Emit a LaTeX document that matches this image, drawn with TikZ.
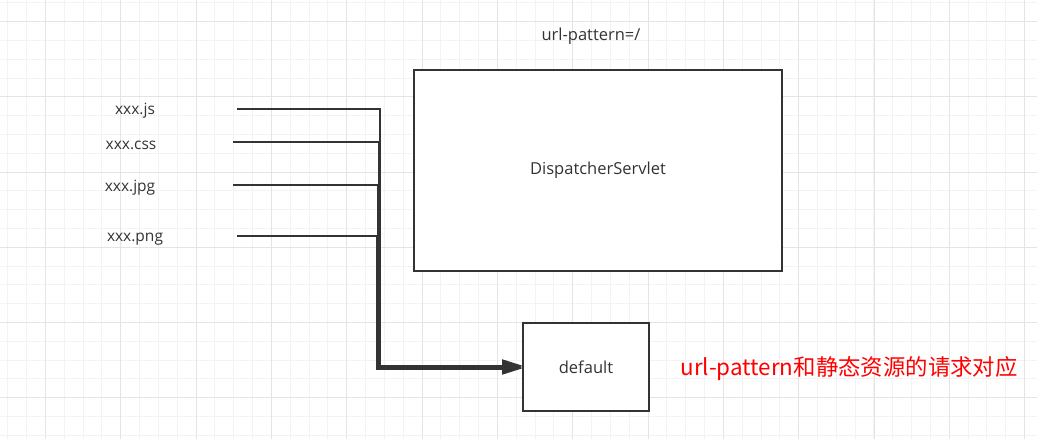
\documentclass[tikz,border=0pt]{standalone}
\usepackage{fontspec}
\setmainfont{Open Sans}
\newfontfamily\cjkfont{Noto Sans CJK SC}
\usetikzlibrary{positioning,arrows.meta}
\definecolor{ink}{HTML}{333333}
\definecolor{gridminor}{HTML}{F3F3F3}
\definecolor{gridmajor}{HTML}{E4E4E4}
\definecolor{notered}{HTML}{FF0000}
\tikzset{
	box/.style={draw=ink, line width=2pt, fill=white, inner sep=0pt},
	boxtext/.style={text=ink, font=\fontsize{16.5}{18}\selectfont},
	filename/.style={text=ink, font=\fontsize{15.5}{17}\selectfont, inner sep=0pt},
	wire/.style={draw=ink, line width=2pt, -{Triangle[length=20pt, width=12pt]}},
}
\begin{document}
\begin{tikzpicture}[x=1pt, y=-1pt]
		% Background grid
		\useasboundingbox[fill=white] (0,0) rectangle (1037,439);
		\foreach \i in {0,...,55} {
			\draw[gridminor, line width=1pt] (7.8+\i*18.83,0) -- (7.8+\i*18.83,439);
		}
		\foreach \j in {0,...,23} {
			\draw[gridminor, line width=1pt] (0,2.9+\j*18.8) -- (1037,2.9+\j*18.8);
		}
		\foreach \i in {0,...,13} {
			\draw[gridmajor, line width=1pt] (45.5+\i*75.32,0) -- (45.5+\i*75.32,439);
		}
		\foreach \j in {0,...,5} {
			\draw[gridmajor, line width=1pt] (0,21.7+\j*75.2) -- (1037,21.7+\j*75.2);
		}
		% Define nodes
		\node[box, minimum width=368pt, minimum height=201pt]	(disp)	at (598,170.5)	{};
		\node[boxtext]	at (disp.center)	{DispatcherServlet};
		\node[boxtext, above = 21pt of disp, xshift=-7pt]	(pattern)	{url-pattern=/};
		\node[box, minimum width=126pt, minimum height=88pt]	(dflt)	at (586,367)	{};
		\node[boxtext]	at (dflt.center)	{default};
		\node[text=notered, font=\cjkfont\fontsize{22.4}{24}\selectfont, right = 27pt of dflt, yshift=-2pt]	(note)	{url-pattern和静态资源的请求对应};
		\node[filename]	(js)	at (135,111)	{xxx.js};
		\node[filename]	(css)	at (131,145)	{xxx.css};
		\node[filename]	(jpg)	at (130,188)	{xxx.jpg};
		\node[filename]	(png)	at (135,239)	{xxx.png};
		\coordinate	(js-in)	at (237,109);
		\coordinate	(css-in)	at (233,142);
		\coordinate	(jpg-in)	at (233,185);
		\coordinate	(png-in)	at (237,235.5);
		\coordinate	(js-bend)	at (380,365.5);
		\coordinate	(css-bend)	at (378.8,366.6);
		\coordinate	(jpg-bend)	at (377.8,367.6);
		\coordinate	(png-bend)	at (377,368.5);
		% Connectors
		\draw[wire] (js-in) -| (js-bend) -- (dflt.west |- js-bend);
		\draw[wire] (css-in) -| (css-bend) -- (dflt.west |- css-bend);
		\draw[wire] (jpg-in) -| (jpg-bend) -- (dflt.west |- jpg-bend);
		\draw[wire] (png-in) -| (png-bend) -- (dflt.west |- png-bend);
	\end{tikzpicture}
\end{document}
